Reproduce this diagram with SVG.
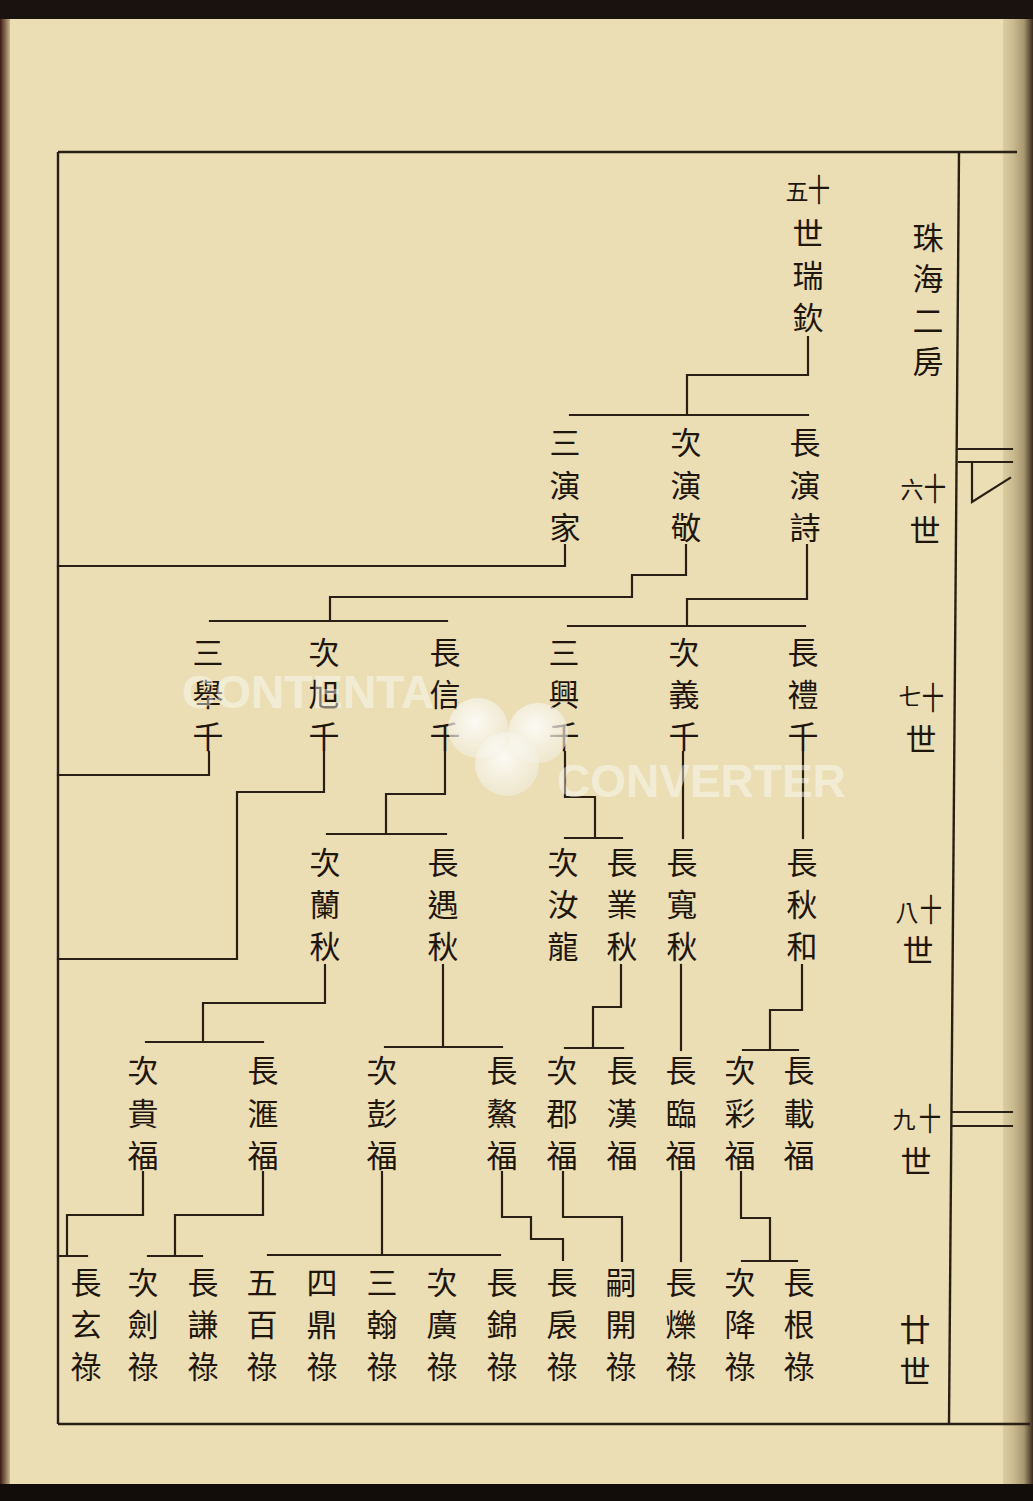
<svg xmlns="http://www.w3.org/2000/svg" width="1033" height="1501" viewBox="0 0 1033 1501">
<style>
.t{font-family:"Noto Sans CJK TC","Noto Sans CJK SC",sans-serif;font-size:31px;fill:#1f160e;text-anchor:middle;dominant-baseline:central}
.s{font-size:23px}
.ln{stroke:#2a1f14;stroke-width:2.2;fill:none;stroke-linecap:square}
.fr{stroke:#2a1f14;stroke-width:2.4;fill:none}
.wm{font-family:"Liberation Sans",Arial,sans-serif;font-weight:bold;font-size:46px;fill:#ffffff;fill-opacity:0.45}
</style>
<defs>
<linearGradient id="edge" x1="0" y1="0" x2="1" y2="0">
<stop offset="0" stop-color="#dccca0"/>
<stop offset="0.35" stop-color="#c9b98f"/>
<stop offset="0.7" stop-color="#a89670"/>
<stop offset="1" stop-color="#3a2c1e"/>
</linearGradient>
<linearGradient id="ledge" x1="0" y1="0" x2="1" y2="0">
<stop offset="0" stop-color="#3a1a12"/>
<stop offset="1" stop-color="#c8b48a"/>
</linearGradient>
<radialGradient id="blob" cx="0.45" cy="0.4" r="0.6">
<stop offset="0" stop-color="#ffffff" stop-opacity="0.85"/>
<stop offset="1" stop-color="#f2eedf" stop-opacity="0.6"/>
</radialGradient>
</defs>
<g id="page">
<rect x="0" y="0" width="1033" height="1501" fill="#ebdeb5"/>
<rect x="0" y="0" width="10" height="1501" fill="url(#ledge)"/>
<rect x="1003" y="0" width="30" height="1501" fill="url(#edge)"/>
<rect x="0" y="0" width="1033" height="19" fill="#1a120e"/>
<rect x="0" y="1484" width="1033" height="17" fill="#120c0a"/>
</g>
<g id="frame">
<path class="fr" d="M58,152 H1017"/>
<path class="fr" d="M58,152 V1424"/>
<path class="fr" d="M58,1424 H1030"/>
<path class="fr" d="M959,152 L949,1424"/>
<path class="ln" d="M959,449 H1012 M959,462 H1012 M972,462 V502 L1010,478"/>
<path class="ln" d="M952,1112 H1012 M952,1126 H1012"/>
</g>
<g id="connectors">
<path class="ln" d="M808,337 V375 H687 V415 M570,415 H808"/>
<path class="ln" d="M565,545 V566 H58"/>
<path class="ln" d="M686,545 V575 H632 V597 H330 V621 M210,621 H447"/>
<path class="ln" d="M807,545 V599 H687 V626 M568,626 H805"/>
<path class="ln" d="M209,752 V775 H58"/>
<path class="ln" d="M324,752 V792 H237 V959 H58"/>
<path class="ln" d="M445,752 V794 H386 V834 M327,834 H446"/>
<path class="ln" d="M565,752 V797 H595 V838 M565,838 H622"/>
<path class="ln" d="M683,752 V838"/>
<path class="ln" d="M803,752 V838"/>
<path class="ln" d="M325,965 V1003 H203 V1042 M146,1042 H263"/>
<path class="ln" d="M443,965 V1047 M385,1047 H502"/>
<path class="ln" d="M621,965 V1007 H593 V1048 M565,1048 H623"/>
<path class="ln" d="M681,965 V1050"/>
<path class="ln" d="M802,965 V1010 H770 V1050 M743,1050 H798"/>
<path class="ln" d="M143,1172 V1215 H67 V1256 M58,1256 H87"/>
<path class="ln" d="M263,1172 V1215 H175 V1256 M148,1256 H202"/>
<path class="ln" d="M382,1172 V1255 M268,1255 H500"/>
<path class="ln" d="M502,1172 V1217 H531 V1239 H563 V1260"/>
<path class="ln" d="M563,1172 V1217 H622 V1261"/>
<path class="ln" d="M681,1172 V1261"/>
<path class="ln" d="M741,1172 V1218 H770 V1261 M742,1261 H797"/>
</g>
<g id="title"><text class="t" x="928" y="235">珠</text><text class="t" x="928" y="276">海</text><text class="t" x="928" y="318">二</text><text class="t" x="928" y="359">房</text></g>
<g id="gen16"><text class="t s" x="912" y="488">六</text><text class="t" transform="translate(935,487) scale(0.72,1)">十</text><text class="t" x="925" y="528">世</text></g>
<g id="gen17"><text class="t s" x="910" y="695">七</text><text class="t" transform="translate(933,696) scale(0.72,1)">十</text><text class="t" x="921" y="737">世</text></g>
<g id="gen18"><text class="t s" x="907" y="911">八</text><text class="t" transform="translate(931,908) scale(0.72,1)">十</text><text class="t" x="918" y="948">世</text></g>
<g id="gen19"><text class="t s" x="904" y="1118">九</text><text class="t" transform="translate(930,1117) scale(0.72,1)">十</text><text class="t" x="916" y="1159">世</text></g>
<g id="gen20"><text class="t" x="915" y="1327">廿</text><text class="t" x="915" y="1369">世</text></g>
<g id="n-ruiqin"><text class="t s" x="797" y="190">五</text><text class="t" transform="translate(819,188) scale(0.72,1)">十</text><text class="t" x="808" y="231">世</text><text class="t" x="808" y="273">瑞</text><text class="t" x="808" y="315">欽</text></g>
<g id="n-yanshi"><text class="t" x="805" y="440">長</text><text class="t" x="805" y="483">演</text><text class="t" x="805" y="525">詩</text></g>
<g id="n-yanjing"><text class="t" x="686" y="440">次</text><text class="t" x="686" y="483">演</text><text class="t" x="686" y="525">敬</text></g>
<g id="n-yanjia"><text class="t" x="565" y="440">三</text><text class="t" x="565" y="483">演</text><text class="t" x="565" y="525">家</text></g>
<g id="n-liqian"><text class="t" x="803" y="650">長</text><text class="t" x="803" y="692">禮</text><text class="t" x="803" y="734">千</text></g>
<g id="n-yiqian"><text class="t" x="684" y="650">次</text><text class="t" x="684" y="692">義</text><text class="t" x="684" y="734">千</text></g>
<g id="n-xingqian"><text class="t" x="564" y="650">三</text><text class="t" x="564" y="692">興</text><text class="t" x="564" y="734">千</text></g>
<g id="n-xinqian"><text class="t" x="445" y="650">長</text><text class="t" x="445" y="692">信</text><text class="t" x="445" y="734">千</text></g>
<g id="n-xuqian"><text class="t" x="324" y="650">次</text><text class="t" x="324" y="692">旭</text><text class="t" x="324" y="734">千</text></g>
<g id="n-juqian"><text class="t" x="208" y="650">三</text><text class="t" x="208" y="692">舉</text><text class="t" x="208" y="734">千</text></g>
<g id="n-qiuhe"><text class="t" x="802" y="860">長</text><text class="t" x="802" y="902">秋</text><text class="t" x="802" y="944">和</text></g>
<g id="n-kuanqiu"><text class="t" x="682" y="860">長</text><text class="t" x="682" y="902">寬</text><text class="t" x="682" y="944">秋</text></g>
<g id="n-yeqiu"><text class="t" x="622" y="860">長</text><text class="t" x="622" y="902">業</text><text class="t" x="622" y="944">秋</text></g>
<g id="n-rulong"><text class="t" x="563" y="860">次</text><text class="t" x="563" y="902">汝</text><text class="t" x="563" y="944">龍</text></g>
<g id="n-yuqiu"><text class="t" x="443" y="860">長</text><text class="t" x="443" y="902">遇</text><text class="t" x="443" y="944">秋</text></g>
<g id="n-lanqiu"><text class="t" x="325" y="860">次</text><text class="t" x="325" y="902">蘭</text><text class="t" x="325" y="944">秋</text></g>
<g id="n-zaifu"><text class="t" x="799" y="1068">長</text><text class="t" x="799" y="1111">載</text><text class="t" x="799" y="1153">福</text></g>
<g id="n-caifu"><text class="t" x="740" y="1068">次</text><text class="t" x="740" y="1111">彩</text><text class="t" x="740" y="1153">福</text></g>
<g id="n-linfu"><text class="t" x="681" y="1068">長</text><text class="t" x="681" y="1111">臨</text><text class="t" x="681" y="1153">福</text></g>
<g id="n-hanfu"><text class="t" x="622" y="1068">長</text><text class="t" x="622" y="1111">漢</text><text class="t" x="622" y="1153">福</text></g>
<g id="n-junfu"><text class="t" x="562" y="1068">次</text><text class="t" x="562" y="1111">郡</text><text class="t" x="562" y="1153">福</text></g>
<g id="n-aofu"><text class="t" x="502" y="1068">長</text><text class="t" x="502" y="1111">鰲</text><text class="t" x="502" y="1153">福</text></g>
<g id="n-pengfu"><text class="t" x="382" y="1068">次</text><text class="t" x="382" y="1111">彭</text><text class="t" x="382" y="1153">福</text></g>
<g id="n-huifu"><text class="t" x="263" y="1068">長</text><text class="t" x="263" y="1111">滙</text><text class="t" x="263" y="1153">福</text></g>
<g id="n-guifu"><text class="t" x="143" y="1068">次</text><text class="t" x="143" y="1111">貴</text><text class="t" x="143" y="1153">福</text></g>
<g id="n-genlu"><text class="t" x="799" y="1280">長</text><text class="t" x="799" y="1322">根</text><text class="t" x="799" y="1364">祿</text></g>
<g id="n-jianglu"><text class="t" x="740" y="1280">次</text><text class="t" x="740" y="1322">降</text><text class="t" x="740" y="1364">祿</text></g>
<g id="n-shuolu"><text class="t" x="681" y="1280">長</text><text class="t" x="681" y="1322">爍</text><text class="t" x="681" y="1364">祿</text></g>
<g id="n-kailu"><text class="t" x="621" y="1280">嗣</text><text class="t" x="621" y="1322">開</text><text class="t" x="621" y="1364">祿</text></g>
<g id="n-yilu"><text class="t" x="562" y="1280">長</text><text class="t" x="562" y="1322">扆</text><text class="t" x="562" y="1364">祿</text></g>
<g id="n-jinlu"><text class="t" x="502" y="1280">長</text><text class="t" x="502" y="1322">錦</text><text class="t" x="502" y="1364">祿</text></g>
<g id="n-guanglu"><text class="t" x="442" y="1280">次</text><text class="t" x="442" y="1322">廣</text><text class="t" x="442" y="1364">祿</text></g>
<g id="n-hanlu"><text class="t" x="382" y="1280">三</text><text class="t" x="382" y="1322">翰</text><text class="t" x="382" y="1364">祿</text></g>
<g id="n-dinglu"><text class="t" x="322" y="1280">四</text><text class="t" x="322" y="1322">鼎</text><text class="t" x="322" y="1364">祿</text></g>
<g id="n-bailu"><text class="t" x="262" y="1280">五</text><text class="t" x="262" y="1322">百</text><text class="t" x="262" y="1364">祿</text></g>
<g id="n-qianlu"><text class="t" x="203" y="1280">長</text><text class="t" x="203" y="1322">謙</text><text class="t" x="203" y="1364">祿</text></g>
<g id="n-jianlu"><text class="t" x="143" y="1280">次</text><text class="t" x="143" y="1322">劍</text><text class="t" x="143" y="1364">祿</text></g>
<g id="n-xuanlu"><text class="t" x="86" y="1280">長</text><text class="t" x="86" y="1322">玄</text><text class="t" x="86" y="1364">祿</text></g>
<g id="watermark">
<text class="wm" x="182" y="708">CONTENTA</text>
<text class="wm" x="557" y="797">CONVERTER</text>
<circle cx="478" cy="728" r="30" fill="url(#blob)"/>
<circle cx="538" cy="733" r="30" fill="url(#blob)"/>
<circle cx="507" cy="764" r="32" fill="url(#blob)"/>
</g>
</svg>
